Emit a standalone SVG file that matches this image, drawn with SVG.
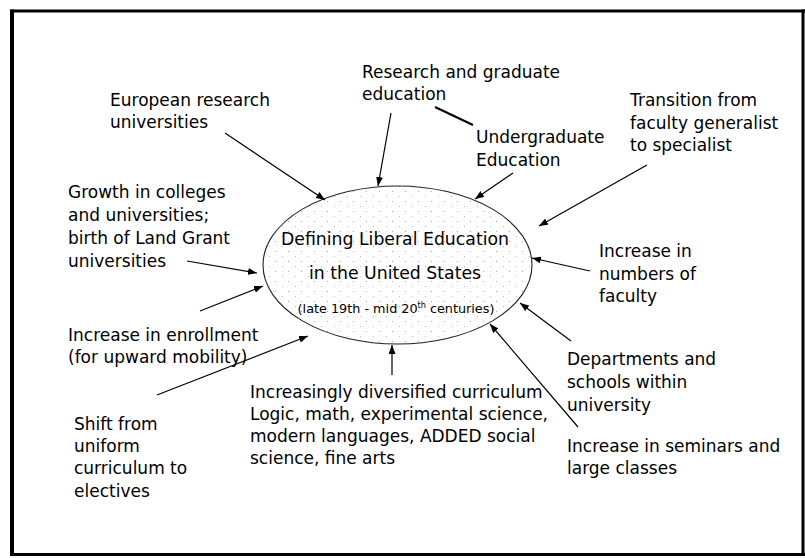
<svg xmlns="http://www.w3.org/2000/svg" width="805" height="558" viewBox="0 0 805 558">
<style>
.t{font-family:"DejaVu Sans",Verdana,sans-serif;font-size:17px;fill:#000}
.m{text-anchor:middle;font-size:17.3px}
.s{text-anchor:middle;font-size:12.8px}
.ln{stroke:#000;stroke-width:1.2;fill:none;marker-end:url(#ah)}
.frame{fill:none;stroke:#000}
</style>
<defs>
<marker id="ah" markerUnits="userSpaceOnUse" markerWidth="9" markerHeight="7" refX="9" refY="3.5" orient="auto">
<path d="M0,0 L9,3.5 L0,7 z" fill="#000"/>
</marker>
<pattern id="dots" width="13" height="10" patternUnits="userSpaceOnUse">
<rect width="13" height="10" fill="#fff"/>
<rect x="2" y="1" width="1" height="1" fill="#a8a8a8"/>
<rect x="9" y="6" width="1" height="1" fill="#bdbdbd"/>
</pattern>
</defs>
<rect width="805" height="558" fill="#fff"/>
<g id="frame">
<line class="frame" x1="10" y1="11" x2="805" y2="11" stroke-width="3"/>
<line class="frame" x1="12" y1="9.5" x2="12" y2="556" stroke-width="4"/>
<line class="frame" x1="10" y1="554.5" x2="805" y2="554.5" stroke-width="3"/>
<line class="frame" x1="803" y1="9.5" x2="803" y2="556" stroke-width="3"/>
</g>
<g id="center">
<ellipse cx="397.5" cy="265" rx="134.5" ry="79" fill="url(#dots)" stroke="#222" stroke-width="1.1"/>
<text class="t m" x="395" y="245">Defining Liberal Education</text>
<text class="t m" x="395" y="279">in the United States</text>
<text class="t s" x="396" y="313">(late 19th - mid 20<tspan dy="-5" font-size="8">th</tspan><tspan dy="5"> centuries)</tspan></text>
</g>
<g id="connectors">
<line class="ln" x1="225" y1="133" x2="325" y2="200"/>
<line class="ln" x1="391" y1="113" x2="378" y2="186"/>
<line x1="435" y1="107" x2="473" y2="125" stroke="#000" stroke-width="2"/>
<line class="ln" x1="513" y1="173" x2="475" y2="199"/>
<line class="ln" x1="647" y1="165" x2="539" y2="226"/>
<line class="ln" x1="590" y1="271" x2="532" y2="258"/>
<line class="ln" x1="571" y1="341" x2="520" y2="303"/>
<line class="ln" x1="578" y1="427" x2="490" y2="324"/>
<line class="ln" x1="392" y1="375" x2="392" y2="345"/>
<line class="ln" x1="157" y1="395" x2="308" y2="336"/>
<line class="ln" x1="200" y1="311" x2="263" y2="286"/>
<line class="ln" x1="187" y1="261" x2="257" y2="273"/>
</g>
<g id="n-european"><text class="t" x="110" y="106">European research</text><text class="t" x="110" y="128">universities</text></g>
<g id="n-research"><text class="t" x="362" y="78">Research and graduate</text><text class="t" x="362" y="100">education</text></g>
<g id="n-undergrad"><text class="t" x="476" y="143">Undergraduate</text><text class="t" x="476" y="166">Education</text></g>
<g id="n-transition"><text class="t" x="630" y="106">Transition from</text><text class="t" x="630" y="129">faculty generalist</text><text class="t" x="630" y="151">to specialist</text></g>
<g id="n-growth"><text class="t" x="68" y="198">Growth in colleges</text><text class="t" x="68" y="221">and universities;</text><text class="t" x="68" y="244">birth of Land Grant</text><text class="t" x="68" y="267">universities</text></g>
<g id="n-numbers"><text class="t" x="599" y="257">Increase in</text><text class="t" x="599" y="280">numbers of</text><text class="t" x="599" y="302">faculty</text></g>
<g id="n-enrollment"><text class="t" x="68" y="341">Increase in enrollment</text><text class="t" x="68" y="363">(for upward mobility)</text></g>
<g id="n-departments"><text class="t" x="567" y="365">Departments and</text><text class="t" x="567" y="388">schools within</text><text class="t" x="567" y="411">university</text></g>
<g id="n-curriculum"><text class="t" x="250" y="398">Increasingly diversified curriculum</text><text class="t" x="250" y="420">Logic, math, experimental science,</text><text class="t" x="250" y="442">modern languages, ADDED social</text><text class="t" x="250" y="464">science, fine arts</text></g>
<g id="n-seminars"><text class="t" x="567" y="452">Increase in seminars and</text><text class="t" x="567" y="474">large classes</text></g>
<g id="n-shift"><text class="t" x="74" y="430">Shift from</text><text class="t" x="74" y="452">uniform</text><text class="t" x="74" y="474">curriculum to</text><text class="t" x="74" y="497">electives</text></g>
</svg>
